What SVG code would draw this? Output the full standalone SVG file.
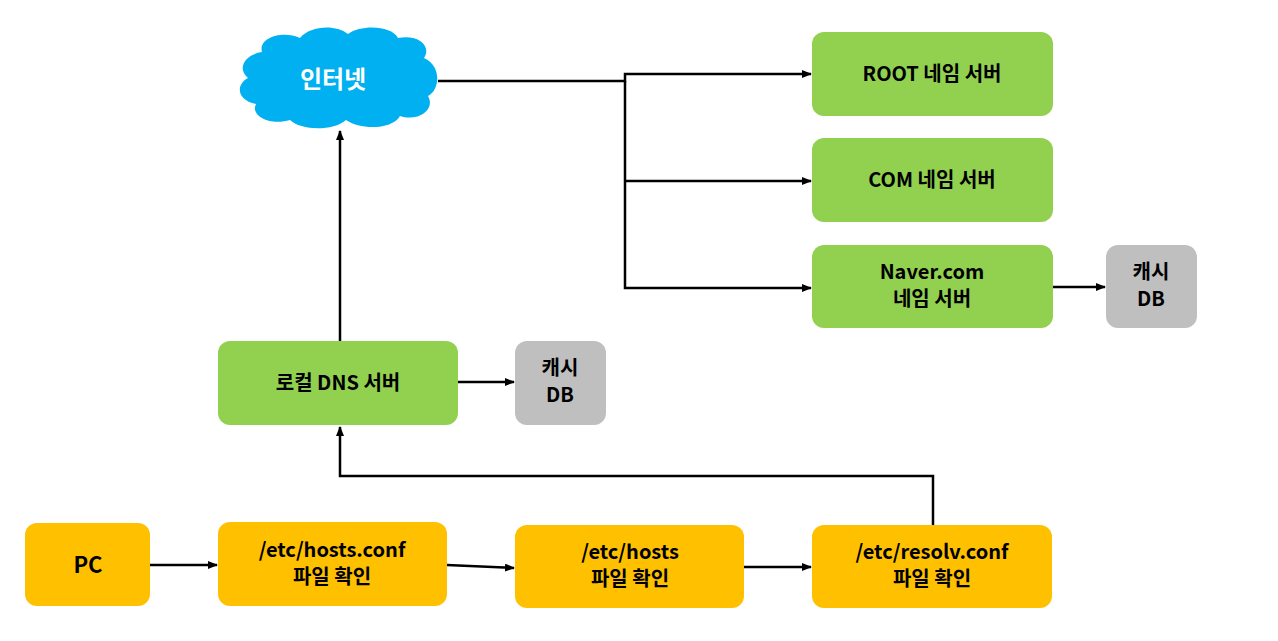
<svg xmlns="http://www.w3.org/2000/svg" width="1278" height="641" viewBox="0 0 1278 641">
<style>
.g{fill:#92d050}.y{fill:#ffc000}.c{fill:#bfbfbf}
text{font-family:"Noto Sans CJK KR","Noto Sans",sans-serif;font-weight:bold;font-size:20px;fill:#000;text-anchor:middle}
.w{fill:#fff;font-size:24px}
.l{fill:none;stroke:#000;stroke-width:2.5}
</style>
<defs><marker id="a" markerWidth="10" markerHeight="8" refX="9" refY="4" orient="auto" markerUnits="userSpaceOnUse"><path d="M0,0 L10,4 L0,8 z" fill="#000"/></marker></defs>
<rect width="1278" height="641" fill="#fff"/>
<g id="internet"><path fill="#00b0f0" d="M262,52 C258,38 282,30 300,38 C310,26 335,24 348,34 C362,24 392,26 398,38 C418,34 432,46 424,58 C442,66 440,90 428,96 C436,110 418,122 400,116 C392,130 360,130 346,120 C332,132 300,130 290,120 C270,126 250,116 256,104 C236,100 236,84 248,78 C236,68 246,54 262,52 Z"/><text class="w" x="333" y="88">인터넷</text></g>
<g id="root"><rect class="g" x="812" y="32" width="241" height="84" rx="12"/><text x="932" y="81">ROOT 네임 서버</text></g>
<g id="com"><rect class="g" x="812" y="138" width="241" height="84" rx="12"/><text x="932" y="187">COM 네임 서버</text></g>
<g id="naver"><rect class="g" x="812" y="245" width="241" height="83" rx="12"/><text x="932" y="279">Naver.com</text><text x="932" y="306">네임 서버</text></g>
<g id="cache2"><rect class="c" x="1106" y="245" width="91" height="83" rx="12"/><text x="1151" y="279">캐시</text><text x="1151" y="306">DB</text></g>
<g id="local"><rect class="g" x="218" y="341" width="240" height="84" rx="12"/><text x="338" y="390">로컬 DNS 서버</text></g>
<g id="cache1"><rect class="c" x="515" y="341" width="91" height="84" rx="12"/><text x="560" y="375">캐시</text><text x="560" y="402">DB</text></g>
<g id="pc"><rect class="y" x="25" y="523" width="125" height="83" rx="12"/><text x="88" y="573" style="font-size:22px">PC</text></g>
<g id="hostsconf"><rect class="y" x="218" y="522" width="229" height="84" rx="12"/><text x="332" y="557">/etc/hosts.conf</text><text x="332" y="584">파일 확인</text></g>
<g id="hosts"><rect class="y" x="515" y="525" width="229" height="83" rx="12"/><text x="630" y="559">/etc/hosts</text><text x="630" y="586">파일 확인</text></g>
<g id="resolv"><rect class="y" x="812" y="525" width="240" height="83" rx="12"/><text x="932" y="559">/etc/resolv.conf</text><text x="932" y="586">파일 확인</text></g>
<g id="connectors">
<path class="l" d="M438,81 H625 V74 H811" marker-end="url(#a)"/>
<path class="l" d="M625,81 V288 H811" marker-end="url(#a)"/>
<path class="l" d="M625,181 H811" marker-end="url(#a)"/>
<path class="l" d="M340,341 V131" marker-end="url(#a)"/>
<path class="l" d="M458,382 H514" marker-end="url(#a)"/>
<path class="l" d="M1053,287 H1105" marker-end="url(#a)"/>
<path class="l" d="M150,565 H217" marker-end="url(#a)"/>
<path class="l" d="M447,565 L514,568" marker-end="url(#a)"/>
<path class="l" d="M744,567 H811" marker-end="url(#a)"/>
<path class="l" d="M933,525 V476 H340 V427" marker-end="url(#a)"/>
</g>
</svg>
